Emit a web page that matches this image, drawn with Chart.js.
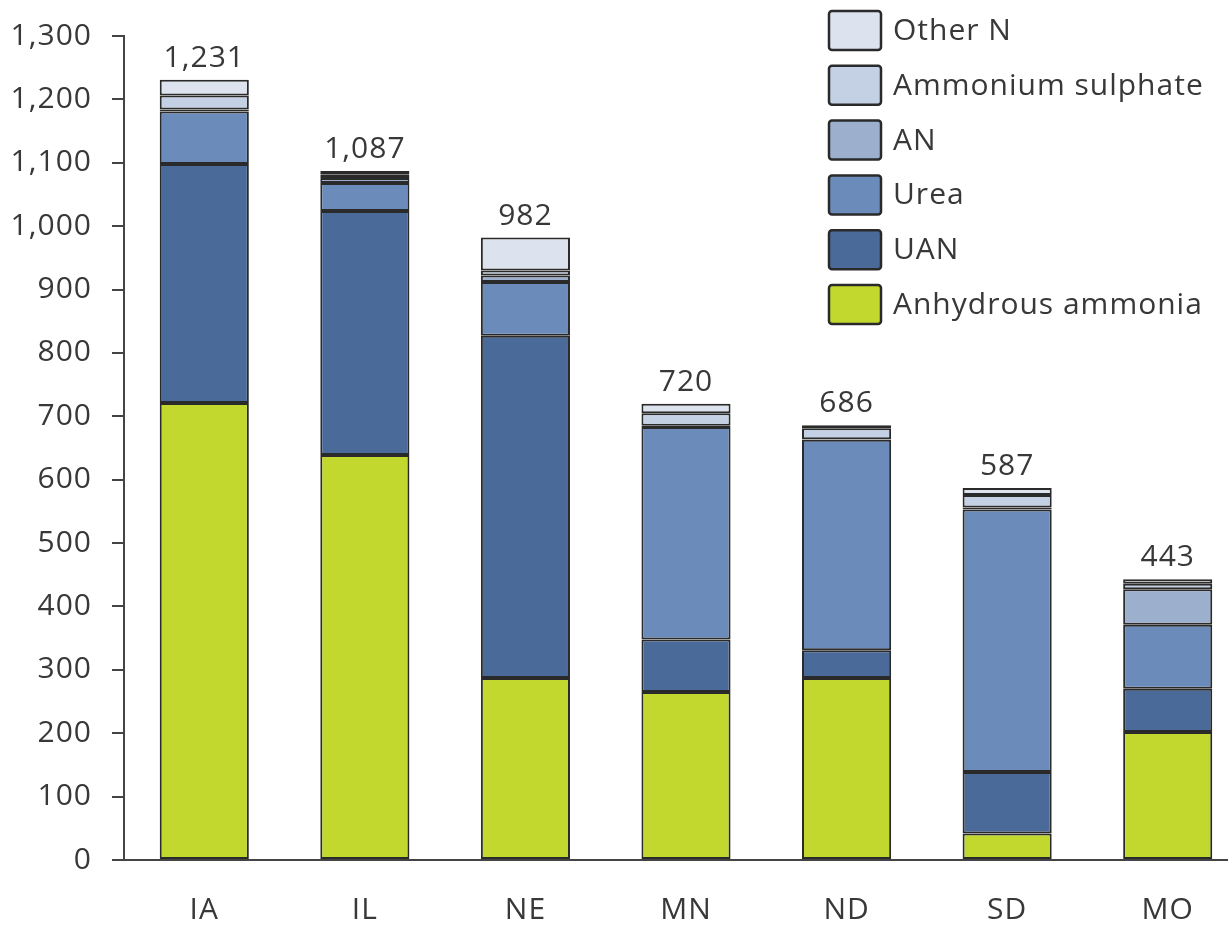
<!DOCTYPE html>
<html>
<head>
<meta charset="utf-8">
<title>Nitrogen fertiliser use by state</title>
<script src="https://cdn.jsdelivr.net/npm/chart.js@4.4.1/dist/chart.umd.min.js"></script>
<style>
  html, body { margin: 0; padding: 0; overflow: hidden; background: #ffffff; }
  #wrap { width: 1248px; height: 927px; }
</style>
</head>
<body>
<div id="wrap"><canvas id="chart" width="1248" height="927"></canvas></div>
<script>
// States on the category axis
const states = ['IA', 'IL', 'NE', 'MN', 'ND', 'SD', 'MO'];

// Nitrogen use per product (thousand tonnes N), stacked bottom to top
const anhydrousAmmonia  = [721, 639, 287, 265, 287,  42, 202];
const uan               = [377, 385, 540,  83,  44,  97,  68];
const urea              = [ 83,  44,  85, 335, 332, 414, 101];
const an                = [  3,   8,  10,   2,   1,   3,  56];
const ammoniumSulphate  = [ 22,   5,   8,  20,  17,  20,   9];
const otherN            = [ 25,   6,  52,  15,   5,  11,   7];

// Value-axis ticks
const yTicks = [0, 100, 200, 300, 400, 500, 600, 700, 800, 900, 1000, 1100, 1200, 1300];

const FONT = '"Open Sans", "DejaVu Sans", sans-serif';
const FONT_SIZE = 30;
const SPACING = '1px';
const TEXT = '#383838';
const EDGE = '#2a2a2a';

const series = [
  { label: 'Anhydrous ammonia', data: anhydrousAmmonia, color: '#c3d82e' },
  { label: 'UAN',               data: uan,              color: '#4a6a9a' },
  { label: 'Urea',              data: urea,             color: '#6b8cba' },
  { label: 'AN',                data: an,               color: '#9cafcd' },
  { label: 'Ammonium sulphate', data: ammoniumSulphate, color: '#c4d0e3' },
  { label: 'Other N',           data: otherN,           color: '#dde3ee' }
];

// Slightly open letter spacing for all canvas text
const looseText = {
  id: 'looseText',
  beforeLayout(chart) { chart.ctx.letterSpacing = SPACING; },
  beforeDraw(chart) { chart.ctx.letterSpacing = SPACING; }
};

// Totals printed above each stack
const totalsPlugin = {
  id: 'stackTotals',
  afterDatasetsDraw(chart) {
    const ctx = chart.ctx;
    const n = chart.data.labels.length;
    const topMeta = chart.getDatasetMeta(chart.data.datasets.length - 1);
    ctx.save();
    ctx.letterSpacing = SPACING;
    ctx.font = FONT_SIZE + 'px ' + FONT;
    ctx.fillStyle = TEXT;
    ctx.textAlign = 'center';
    ctx.textBaseline = 'alphabetic';
    for (let i = 0; i < n; i++) {
      let sum = 0;
      chart.data.datasets.forEach(ds => { sum += ds.data[i]; });
      const el = topMeta.data[i];
      ctx.fillText(sum.toLocaleString('en-US'), el.x, el.y - 13);
    }
    ctx.restore();
  }
};

// Boxed legend inside the plot, top series listed first
const boxLegend = {
  id: 'boxLegend',
  afterDraw(chart) {
    const ctx = chart.ctx;
    const ds = chart.data.datasets;
    const x0 = 829, y0 = 11, w = 52, h = 39, step = 54.8;
    ctx.save();
    ctx.letterSpacing = SPACING;
    ctx.font = FONT_SIZE + 'px ' + FONT;
    ctx.textAlign = 'left';
    ctx.textBaseline = 'middle';
    for (let r = 0; r < ds.length; r++) {
      const d = ds[ds.length - 1 - r];
      const y = y0 + r * step;
      ctx.beginPath();
      ctx.roundRect(x0, y, w, h, 3);
      ctx.fillStyle = d.backgroundColor;
      ctx.fill();
      ctx.lineWidth = 2.5;
      ctx.strokeStyle = EDGE;
      ctx.stroke();
      ctx.fillStyle = TEXT;
      ctx.fillText(d.label, x0 + 64, y + h / 2 + 1);
    }
    ctx.restore();
  }
};

new Chart(document.getElementById('chart'), {
  type: 'bar',
  data: {
    labels: states,
    datasets: series.map(s => ({
      label: s.label,
      data: s.data,
      backgroundColor: s.color,
      borderColor: EDGE,
      borderWidth: 2,
      borderSkipped: false,
      categoryPercentage: 1,
      barPercentage: 0.555
    }))
  },
  options: {
    responsive: false,
    animation: false,
    devicePixelRatio: 1,
    layout: { padding: { top: 36, left: 0, right: 0, bottom: 0 } },
    plugins: {
      legend: { display: false },
      tooltip: { enabled: false }
    },
    scales: {
      x: {
        stacked: true,
        grid: { display: true, drawOnChartArea: false, drawTicks: false },
        border: { display: true, color: '#444444', width: 2 },
        ticks: { color: TEXT, font: { family: FONT, size: FONT_SIZE }, padding: 32 },
        afterFit(scale) { scale.height = 67; }
      },
      y: {
        stacked: true,
        min: 0,
        max: 1300,
        afterBuildTicks(scale) { scale.ticks = yTicks.map(v => ({ value: v })); },
        grid: { drawOnChartArea: false, drawTicks: true, tickLength: 12, color: '#444444', lineWidth: 2 },
        border: { display: true, color: '#444444', width: 2 },
        ticks: {
          color: TEXT,
          font: { family: FONT, size: FONT_SIZE },
          padding: 20,
          callback: v => v.toLocaleString('en-US')
        },
        afterFit(scale) {
          scale.width = 124;
          scale.paddingTop = 0;
          scale.paddingBottom = 0;
        }
      }
    }
  },
  plugins: [looseText, totalsPlugin, boxLegend]
});
</script>
</body>
</html>
